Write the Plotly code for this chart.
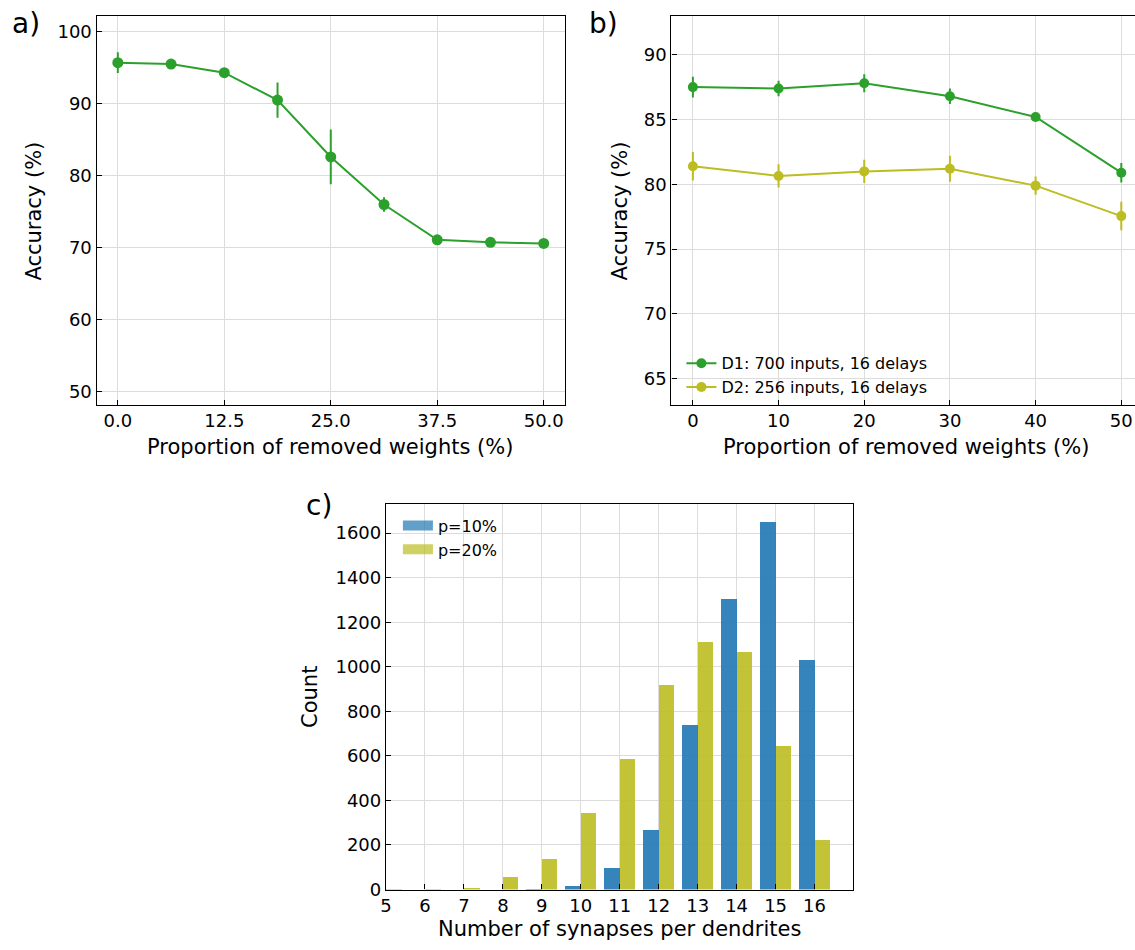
import plotly.graph_objects as go

# ---------------- data ----------------
# Panel a
a_x = [0.0, 6.25, 12.5, 18.75, 25.0, 31.25, 37.5, 43.75, 50.0]
a_acc = [95.7, 95.5, 94.3, 90.5, 82.6, 76.0, 71.1, 70.75, 70.6]
a_err = [1.45, 0.3, 0.35, 2.45, 3.8, 1.0, 0.3, 0.25, 0.25]

# Panel b
b_x = [0, 10, 20, 30, 40, 50]
b_d1 = [87.5, 87.4, 87.8, 86.8, 85.2, 80.9]
b_d1_err = [0.8, 0.6, 0.7, 0.6, 0.2, 0.75]
b_d2 = [81.4, 80.65, 81.0, 81.2, 79.9, 77.55]
b_d2_err = [1.1, 0.9, 0.9, 1.0, 0.7, 1.1]
b_names = ["D1: 700 inputs, 16 delays", "D2: 256 inputs, 16 delays"]

# Panel c
c_bins = [5, 6, 7, 8, 9, 10, 11, 12, 13, 14, 15, 16]
c_p10 = [0, 0, 0, 0, 6, 18, 98, 271, 742, 1305, 1652, 1030]
c_p20 = [4, 3, 9, 56, 138, 346, 586, 919, 1114, 1070, 648, 222]
c_names = ["p=10%", "p=20%"]

# ---------------- styles ----------------
GREEN = "#2ca02c"
OLIVE = "#bcbd22"
BLUE_BAR = "rgba(31,119,180,0.9)"
OLIVE_BAR = "rgba(188,189,34,0.9)"
BLUE_LEG = "rgba(31,119,180,0.7)"
OLIVE_LEG = "rgba(188,189,34,0.7)"
FONT = "DejaVu Sans"
W, H = 1135, 950

fig = go.Figure()

# Panel a
fig.add_trace(go.Scatter(
    x=a_x, y=a_acc, mode="lines+markers",
    line=dict(color=GREEN, width=2), marker=dict(color=GREEN, size=11),
    error_y=dict(type="data", array=a_err, color=GREEN, thickness=2, width=0),
    showlegend=False, xaxis="x", yaxis="y"))

# Panel b
for ys, es, col, nm in [(b_d1, b_d1_err, GREEN, b_names[0]), (b_d2, b_d2_err, OLIVE, b_names[1])]:
    fig.add_trace(go.Scatter(
        x=b_x, y=ys, mode="lines+markers", name=nm,
        line=dict(color=col, width=2), marker=dict(color=col, size=10),
        error_y=dict(type="data", array=es, color=col, thickness=2, width=0),
        xaxis="x2", yaxis="y2", legend="legend"))

# Panel c
fig.add_trace(go.Bar(x=c_bins, y=c_p10, width=0.4, offset=-0.4, name=c_names[0],
                     marker=dict(color=BLUE_BAR, line=dict(width=0)), showlegend=False,
                     xaxis="x3", yaxis="y3"))
fig.add_trace(go.Bar(x=c_bins, y=c_p20, width=0.4, offset=0.0, name=c_names[1],
                     marker=dict(color=OLIVE_BAR, line=dict(width=0)), showlegend=False,
                     xaxis="x3", yaxis="y3"))
# legend entries for panel c (wide rectangular patches)
for nm, col in [(c_names[0], BLUE_LEG), (c_names[1], OLIVE_LEG)]:
    fig.add_trace(go.Scatter(x=[None], y=[None], mode="lines", name=nm,
                             line=dict(color=col, width=11),
                             xaxis="x3", yaxis="y3", legend="legend2"))


def px(v):
    return v / W


def py(v):
    return 1 - v / H


axis_common = dict(showline=True, linecolor="black", linewidth=1.2,
                   ticks="inside", ticklen=5, tickwidth=1.2, tickcolor="black",
                   showgrid=True, gridcolor="#dcdcdc", gridwidth=1,
                   zeroline=False, tickfont=dict(family=FONT, size=18, color="black"))

A_TOP, A_BOT = 16, 409
C_TOP, C_BOT = 509, 899

fig.update_layout(
    width=W, height=H, margin=dict(l=0, r=0, t=0, b=0),
    paper_bgcolor="white", plot_bgcolor="white",
    font=dict(family=FONT, color="black"),
    barmode="overlay", bargap=0,
    xaxis=dict(domain=[px(91), px(562)], range=[-2.5, 52.5], anchor="y",
               tickvals=[0, 12.5, 25, 37.5, 50], ticktext=["0.0", "12.5", "25.0", "37.5", "50.0"],
               mirror=True, **axis_common),
    yaxis=dict(domain=[py(A_BOT), py(A_TOP)], range=[48.2, 102.2], anchor="x",
               tickvals=[50, 60, 70, 80, 90, 100], mirror=True, **axis_common),
    xaxis2=dict(domain=[px(669), 1.0], range=[-2.5, 51.6], anchor="y2",
                tickvals=[0, 10, 20, 30, 40, 50], mirror=True, **axis_common),
    yaxis2=dict(domain=[py(A_BOT), py(A_TOP)], range=[63, 93], anchor="x2",
                tickvals=[65, 70, 75, 80, 85, 90], mirror=False, **axis_common),
    xaxis3=dict(domain=[px(382), px(852)], range=[5, 17], anchor="y3",
                tickvals=c_bins, mirror=True, **axis_common),
    yaxis3=dict(domain=[py(C_BOT), py(C_TOP)], range=[0, 1732.5], anchor="x3",
                tickvals=[0, 200, 400, 600, 800, 1000, 1200, 1400, 1600], mirror=True, **axis_common),
    legend=dict(x=px(679), y=py(350), xanchor="left", yanchor="top",
                bgcolor="rgba(0,0,0,0)", font=dict(family=FONT, size=16, color="black"),
                tracegroupgap=0, itemwidth=30),
    legend2=dict(x=px(394), y=py(514), xanchor="left", yanchor="top",
                 bgcolor="rgba(0,0,0,0)", font=dict(family=FONT, size=16, color="black"),
                 tracegroupgap=0, itemwidth=30),
)

ann = []
title_font = dict(family=FONT, size=21, color="black")
mid = dict(xanchor="center", yanchor="middle")
# axis titles
ann.append(dict(text="Proportion of removed weights (%)", x=px(326), y=py(452), font=title_font, **mid))
ann.append(dict(text="Accuracy (%)", x=px(28), y=py(213), textangle=-90, font=title_font, **mid))
ann.append(dict(text="Proportion of removed weights (%)", x=px(905), y=py(452), font=title_font, **mid))
ann.append(dict(text="Accuracy (%)", x=px(617), y=py(213), textangle=-90, font=title_font, **mid))
ann.append(dict(text="Number of synapses per dendrites", x=px(617), y=0, font=title_font,
                xanchor="center", yanchor="bottom", borderpad=0, yshift=-2))
ann.append(dict(text="Count", x=px(305), y=py(704), textangle=-90, font=title_font, **mid))
# panel letters
letter_font = dict(family=FONT, size=28, color="black")
ann.append(dict(text="a)", x=px(20), y=py(24), font=letter_font, **mid))
ann.append(dict(text="b)", x=px(601), y=py(24), font=letter_font, **mid))
ann.append(dict(text="c)", x=px(315), y=py(511), font=letter_font, **mid))
for a in ann:
    a.update(xref="paper", yref="paper", showarrow=False)
fig.update_layout(annotations=ann)

fig.write_html("out.html")
